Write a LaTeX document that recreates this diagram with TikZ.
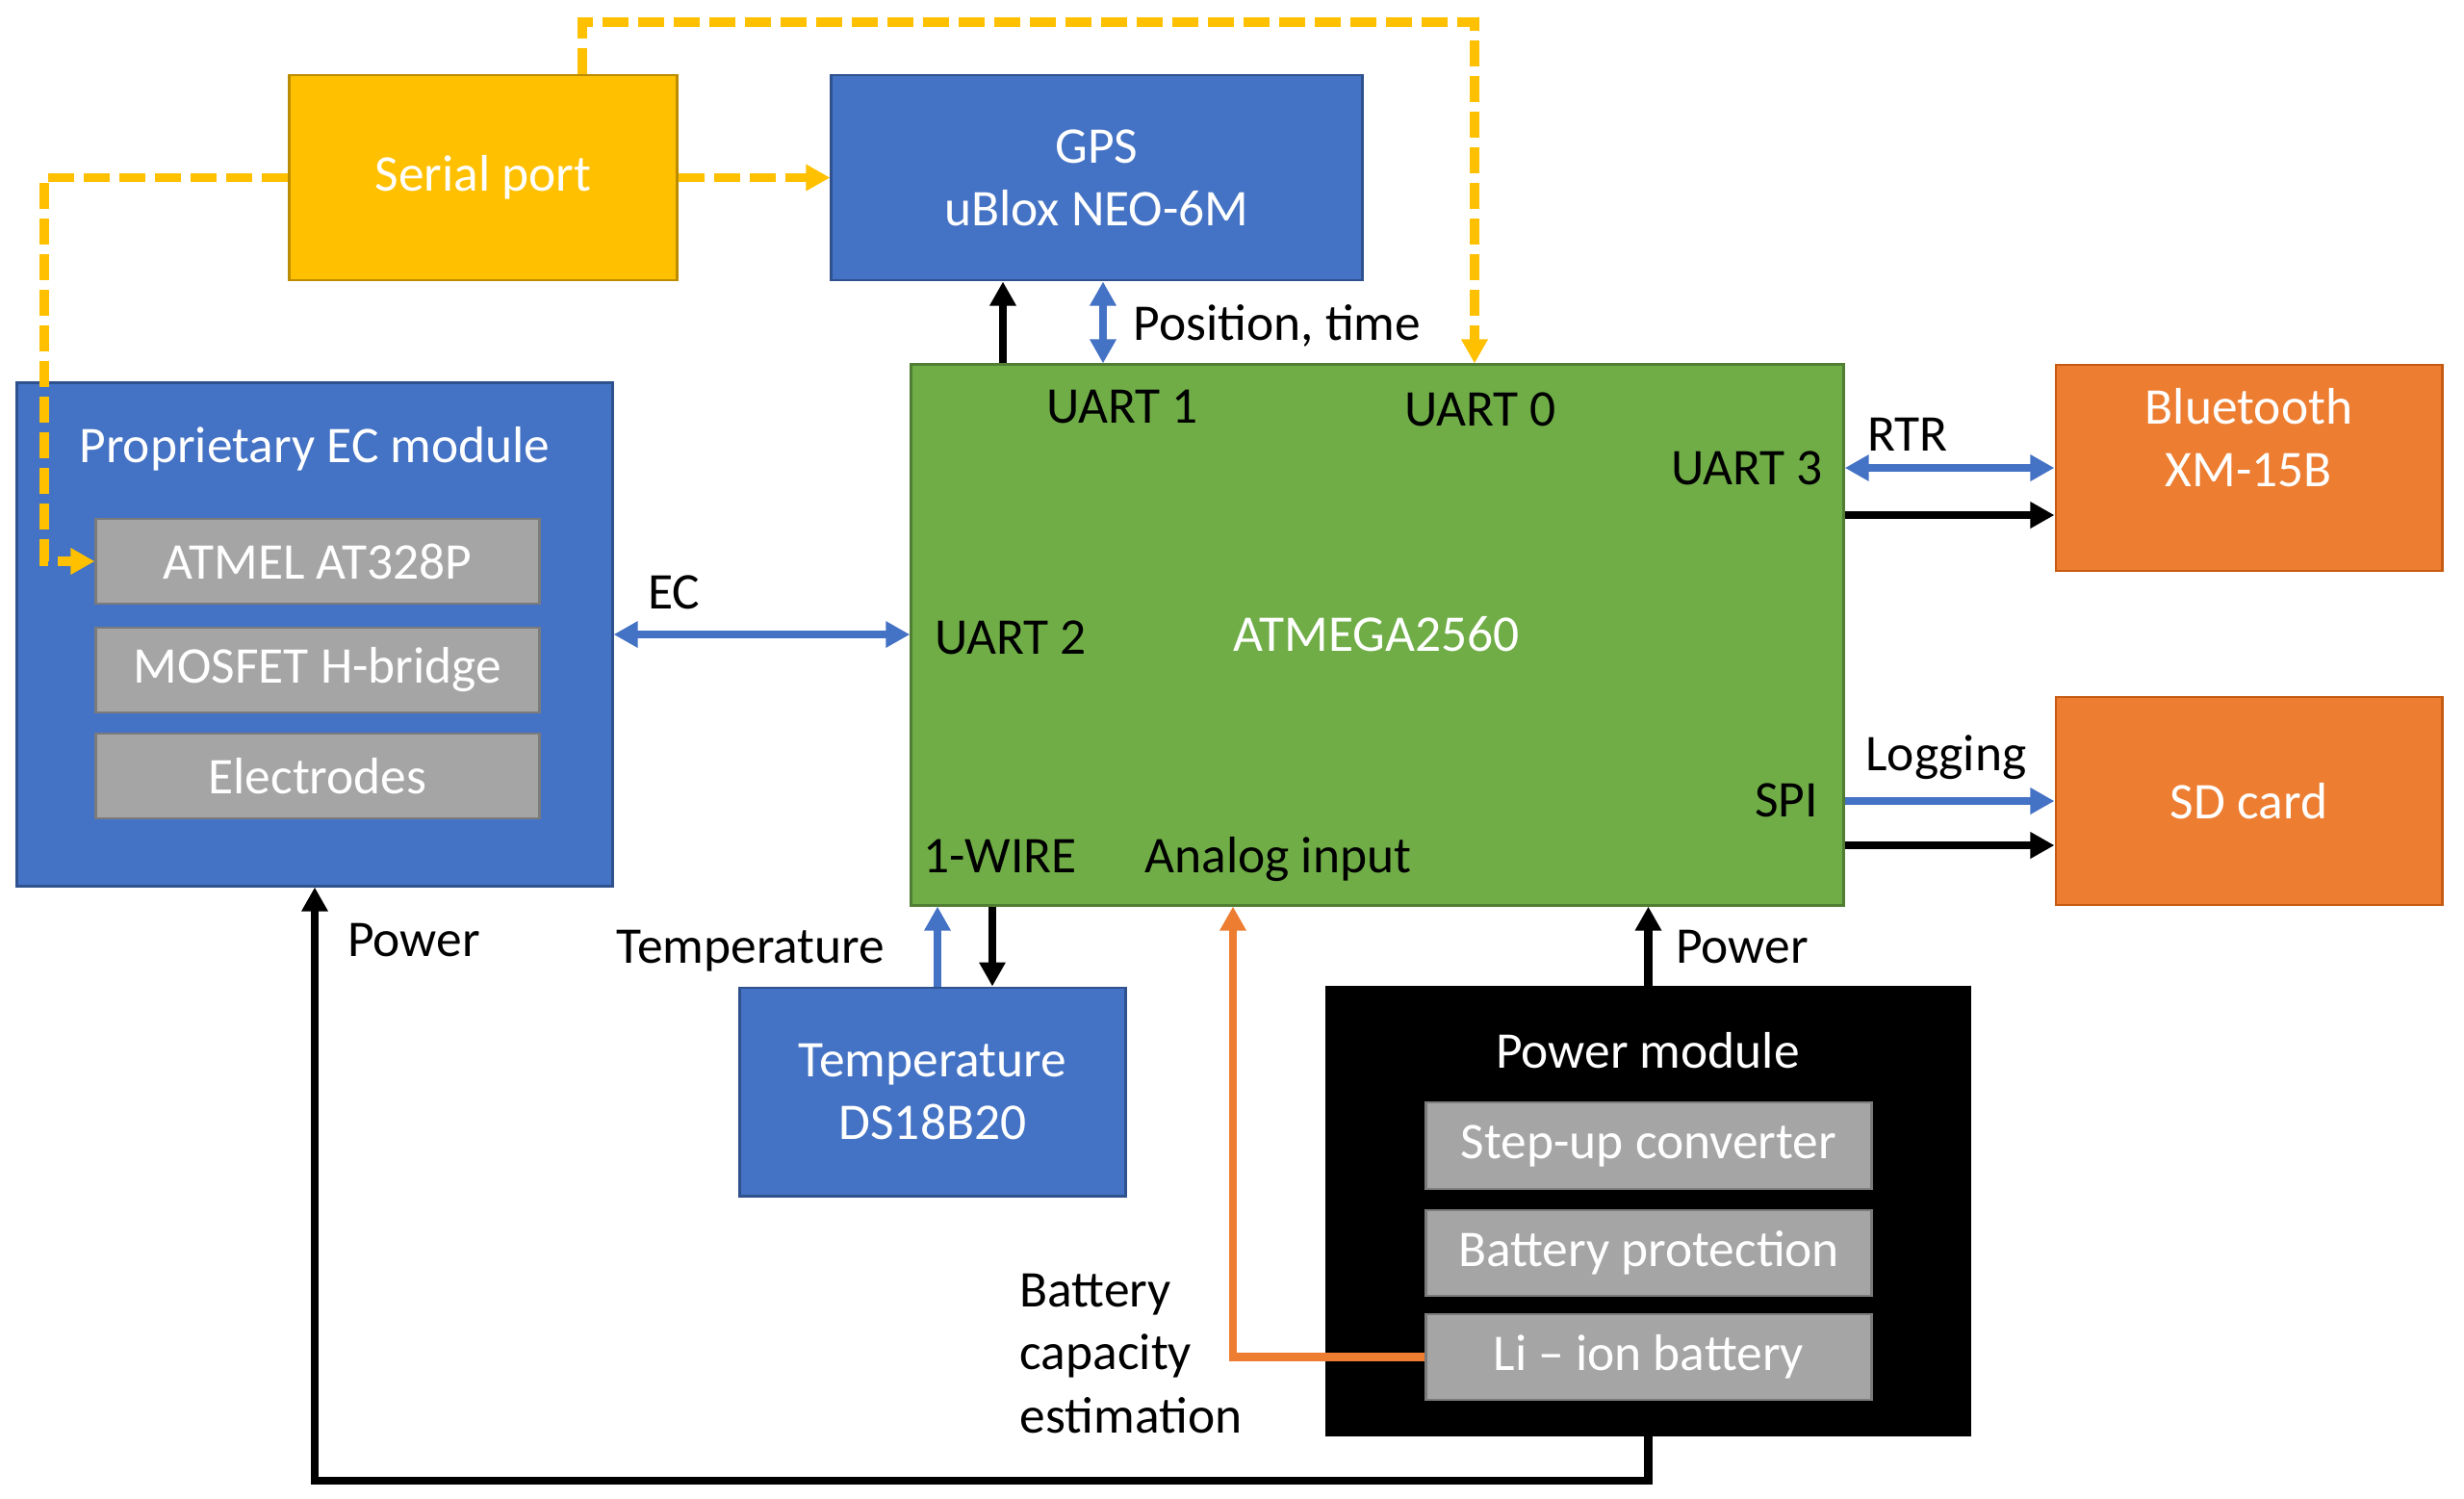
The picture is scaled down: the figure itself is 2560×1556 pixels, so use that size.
\documentclass[tikz,border=0pt]{standalone}
\usepackage{fontspec}
\setmainfont{Carlito}
\usetikzlibrary{arrows.meta}
\definecolor{cblue}{HTML}{4472C4}
\definecolor{cblueb}{HTML}{2F528F}
\definecolor{corange}{HTML}{ED7D31}
\definecolor{coranb}{HTML}{C55A11}
\definecolor{cyellow}{HTML}{FFC000}
\definecolor{cyellb}{HTML}{BC8C00}
\definecolor{cgreen}{HTML}{70AD47}
\definecolor{cgreenb}{HTML}{507E32}
\definecolor{cgray}{HTML}{A5A5A5}
\definecolor{cgrayb}{HTML}{7B7B7B}
\begin{document}
\begin{tikzpicture}[x=0.01cm,y=-0.01cm,
  every node/.style={font=\fontsize{15.2}{18.5}\selectfont},
  box/.style={draw, line width=0.8pt, align=center, text=white, inner sep=0pt},
  bluebox/.style={box, fill=cblue, draw=cblueb},
  orbox/.style={box, fill=corange, draw=coranb},
  graybox/.style={box, fill=cgray, draw=cgrayb, minimum height=0.88cm},
  lbl/.style={inner sep=0pt, text=black, anchor=base},
  conn/.style={line width=2.3pt},
  tip/.style={-{Triangle[length=0.25cm,width=0.26cm]}},
  dtip/.style={{Triangle[length=0.25cm,width=0.26cm]}-{Triangle[length=0.25cm,width=0.26cm]}},
  ydash/.style={line width=2.6pt, cyellow, dash pattern=on 0.27cm off 0.1cm},
]
\useasboundingbox (0,0) rectangle (2560,1556);

% boxes
\node[box, fill=cyellow, draw=cyellb, minimum width=4.02cm, minimum height=2.13cm] (serial) at (502,184.5) {Serial port};
\node[bluebox, minimum width=5.51cm, minimum height=2.13cm] (gps) at (1139.5,184.5) {GPS\\uBlox NEO-6M};
\node[bluebox, minimum width=6.18cm, minimum height=5.22cm] (ec) at (327,659) {};
\node[box, text=white, draw=none, anchor=base] (ectitle) at (327,480) {Proprietary EC module};
\node[graybox, minimum width=4.60cm] (atmel) at (330,583) {ATMEL AT328P};
\node[graybox, minimum width=4.60cm] (mosfet) at (330,696) {MOSFET H-bridge};
\node[graybox, minimum width=4.60cm] (electrodes) at (330,806) {Electrodes};

\node[box, fill=cgreen, draw=cgreenb, minimum width=9.68cm, minimum height=5.61cm] (mcu) at (1431,659.5) {};
\node[box, draw=none, anchor=base] (mcuname) at (1430,676) {ATMEGA2560};

\node[orbox, minimum width=4.01cm, minimum height=2.14cm] (bt) at (2336.5,486) {};
\node[box, draw=none] (btname) at (2336.5,455) {Bluetooth\\XM-15B};
\node[orbox, minimum width=4.01cm, minimum height=2.16cm] (sd) at (2336.5,832) {SD card};
\node[bluebox, minimum width=4.00cm, minimum height=2.16cm] (temp) at (969,1134) {Temperature\\DS18B20};

\node[box, fill=black, draw=black, minimum width=6.67cm, minimum height=4.64cm] (pm) at (1712.5,1258) {};
\node[box, draw=none, anchor=base] (pmtitle) at (1712,1109) {Power module};
\node[graybox, minimum width=4.62cm, minimum height=0.90cm] (stepup) at (1713,1190) {Step-up converter};
\node[graybox, minimum width=4.62cm, minimum height=0.89cm] (batprot) at (1713,1301.5) {Battery protection};
\node[graybox, minimum width=4.62cm, minimum height=0.89cm] (liion) at (1713,1409.5) {Li -- ion battery};

% labels inside MCU
\node[lbl] (u1) at (1166,439) {UART 1};
\node[lbl] (u0) at (1538,442) {UART 0};
\node[lbl] (u3) at (1815,503) {UART 3};
\node[lbl] (u2) at (1050,679) {UART 2};
\node[lbl] (ow) at (1039,906) {1-WIRE};
\node[lbl] (ai) at (1328,906) {Analog input};
\node[lbl] (spi) at (1856,848) {SPI};

% connector labels
\node[lbl, anchor=base west] (pos) at (1177,353) {Position, time};
\node[lbl] (eclbl) at (700,632) {EC};
\node[lbl] (rtr) at (1982,468) {RTR};
\node[lbl] (logl) at (2022,800) {Logging};
\node[lbl] (pw1) at (430,993) {Power};
\node[lbl] (templ) at (780,1000) {Temperature};
\node[lbl] (pw2) at (1810,1000) {Power};
\node[inner sep=0pt, anchor=west, align=left] (batl) at (1059,1406) {Battery\\capacity\\estimation};

% coordinates
\coordinate (y1) at (605,23);
\coordinate (y2) at (1532,23);
\coordinate (y3) at (46,0);
\coordinate (g1) at (1042,0);
\coordinate (g2) at (1146,0);
\coordinate (k1) at (0,535);
\coordinate (k2) at (0,878);
\coordinate (t1) at (974,0);
\coordinate (t2) at (1031,0);
\coordinate (o1) at (1281,0);
\coordinate (b1) at (0,1538);

% serial dashed connectors
\draw[ydash, tip] (serial.north -| y1) -- (y1) -- (y2) -- (mcu.north -| y2);
\draw[ydash, tip] (serial.east) -- (gps.west);
\draw[ydash, tip] (serial.west) -| (y3 |- atmel.west) -- (atmel.west);

% GPS
\draw[conn, tip] (mcu.north -| g1) -- (gps.south -| g1);
\draw[conn, cblue, dtip] (mcu.north -| g2) -- (gps.south -| g2);

% EC
\draw[conn, cblue, dtip] (ec.east) -- (mcu.west |- ec.east);

% Bluetooth
\draw[conn, cblue, dtip] (mcu.east |- bt.west) -- (bt.west);
\draw[conn, tip] (mcu.east |- k1) -- (bt.west |- k1);

% SD card
\draw[conn, cblue, tip] (mcu.east |- sd.west) -- (sd.west);
\draw[conn, tip] (mcu.east |- k2) -- (sd.west |- k2);

% Temperature
\draw[conn, cblue, tip] (temp.north -| t1) -- (mcu.south -| t1);
\draw[conn, tip] (mcu.south -| t2) -- (temp.north -| t2);

% battery estimation
\draw[conn, corange, tip] (liion.west) -| (mcu.south -| o1);

% power
\draw[conn, tip] (pm.north) -- (mcu.south -| pm.north);
\draw[conn, tip] (pm.south) |- (ec.south |- b1) -- (ec.south);
\end{tikzpicture}
\end{document}
